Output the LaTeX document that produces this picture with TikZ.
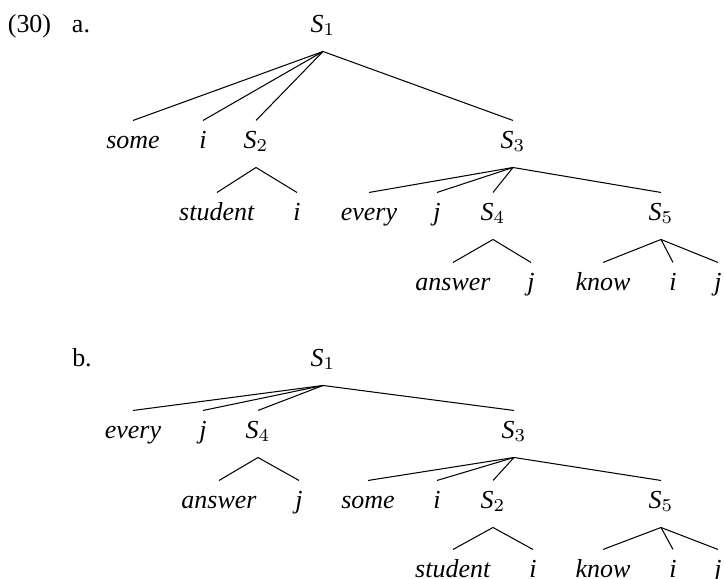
\documentclass[tikz,border=0pt]{standalone}
\usepackage{fontspec}
\setmainfont{Liberation Serif}
\usepackage{tikz}

\tikzset{tn/.style={anchor=base,inner xsep=1pt,inner ysep=5pt,text height=5.4pt,text depth=2.3pt}}
\newcommand{\Sn}[1]{$\mathit{S}_{#1}$}

\begin{document}
\begin{tikzpicture}[x=0.385pt,y=-0.385pt]
  \useasboundingbox (0,0) rectangle (725,579);
  % (30) a.
  \node[tn] (num) at (29.5,32) {(30)};
  \node[tn] (laba) at (81,32) {a.};
  \node[tn] (aS1) at (323,32) {\Sn{1}};
  \node[tn] (asome) at (133,148) {\textit{some}};
  \node[tn] (ai1) at (203,148) {\textit{i}};
  \node[tn] (aS2) at (256,148) {\Sn{2}};
  \node[tn] (aS3) at (513,148) {\Sn{3}};
  \node[tn] (astudent) at (217,220) {\textit{student}};
  \node[tn] (ai2) at (297,220) {\textit{i}};
  \node[tn] (aevery) at (369,220) {\textit{every}};
  \node[tn] (aj1) at (437,220) {\textit{j}};
  \node[tn] (aS4) at (493,220) {\Sn{4}};
  \node[tn] (aS5) at (661,220) {\Sn{5}};
  \node[tn] (aanswer) at (453,290) {\textit{answer}};
  \node[tn] (aj2) at (531,290) {\textit{j}};
  \node[tn] (aknow) at (603,290) {\textit{know}};
  \node[tn] (ai3) at (673,290) {\textit{i}};
  \node[tn] (aj3) at (718,290) {\textit{j}};
  \foreach \c in {asome,ai1,aS2,aS3} \draw (aS1.south) -- (\c.north);
  \foreach \c in {astudent,ai2} \draw (aS2.south) -- (\c.north);
  \foreach \c in {aevery,aj1,aS4,aS5} \draw (aS3.south) -- (\c.north);
  \foreach \c in {aanswer,aj2} \draw (aS4.south) -- (\c.north);
  \foreach \c in {aknow,ai3,aj3} \draw (aS5.south) -- (\c.north);
  % b.
  \node[tn] (labb) at (82,366) {b.};
  \node[tn] (bS1) at (323,366) {\Sn{1}};
  \node[tn] (bevery) at (133,438) {\textit{every}};
  \node[tn] (bj1) at (203,438) {\textit{j}};
  \node[tn] (bS4) at (258,438) {\Sn{4}};
  \node[tn] (bS3) at (514,438) {\Sn{3}};
  \node[tn] (banswer) at (219,508) {\textit{answer}};
  \node[tn] (bj2) at (299,508) {\textit{j}};
  \node[tn] (bsome) at (368,508) {\textit{some}};
  \node[tn] (bi1) at (437,508) {\textit{i}};
  \node[tn] (bS2) at (493,508) {\Sn{2}};
  \node[tn] (bS5) at (661,508) {\Sn{5}};
  \node[tn] (bstudent) at (453,577) {\textit{student}};
  \node[tn] (bi2) at (533,577) {\textit{i}};
  \node[tn] (bknow) at (603,577) {\textit{know}};
  \node[tn] (bi3) at (673,577) {\textit{i}};
  \node[tn] (bj3) at (718,577) {\textit{j}};
  \foreach \c in {bevery,bj1,bS4,bS3} \draw (bS1.south) -- (\c.north);
  \foreach \c in {banswer,bj2} \draw (bS4.south) -- (\c.north);
  \foreach \c in {bsome,bi1,bS2,bS5} \draw (bS3.south) -- (\c.north);
  \foreach \c in {bstudent,bi2} \draw (bS2.south) -- (\c.north);
  \foreach \c in {bknow,bi3,bj3} \draw (bS5.south) -- (\c.north);
\end{tikzpicture}
\end{document}
